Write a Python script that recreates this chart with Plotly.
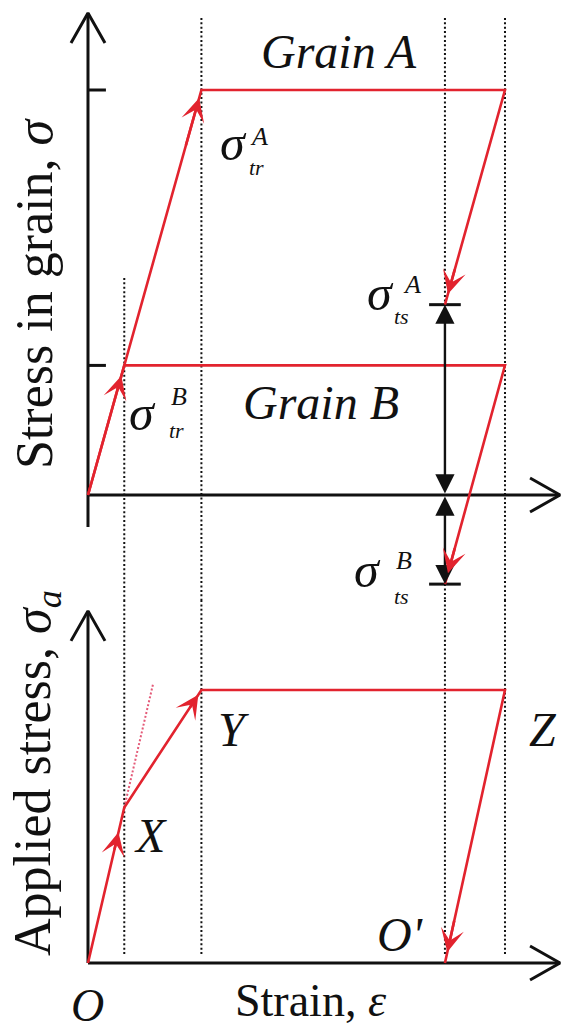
import plotly.graph_objects as go

# ---- data -------------------------------------------------------------
# strain at the characteristic points, normalised by the strain at Z
strain_labels = ["X", "Y", "O'", "Z"]
strain_vals = [0.087, 0.272, 0.856, 1.0]
eps_B, eps_A, eps_res, eps_max = strain_vals

# stress in each grain, normalised by the yield stress of grain A
grain_names = ["A", "B"]
sigma_tr = [1.0, 0.32]      # stress at which each grain starts to yield
sigma_ts = [0.47, -0.22]    # residual stress left after unloading

# applied stress along the path O -> X -> Y -> Z -> O'
applied_labels = ["O", "X", "Y", "Z", "O'"]
applied_strain = [0.0, eps_B, eps_A, eps_max, eps_res]
applied_stress = [0.0, 0.57, 1.0, 1.0, 0.0]

# the initial elastic line continued beyond X
elastic_ext_stress = 1.02

# ---- styling ----------------------------------------------------------
RED = "#e2232e"
PINK = "#e45a78"
BLACK = "#111111"
SERIF = "Liberation Serif"

W, H = 564, 1031
x_range = [-0.211, 1.1415]
y_top_range = [-0.2593, 1.2222]
y_bot_range = [-0.2491, 1.3297]
split = 0.418

# data units per screen pixel, used to size the open axis arrowheads
px_x = (x_range[1] - x_range[0]) / W
px_y = {"y": (y_top_range[1] - y_top_range[0]) / (H * (1 - split)),
        "y2": (y_bot_range[1] - y_bot_range[0]) / (H * split)}

fig = go.Figure()


def line(xs, ys, yaxis, color, width, dash="solid"):
    fig.add_trace(go.Scatter(
        x=xs, y=ys, xaxis="x", yaxis=yaxis, mode="lines",
        line=dict(color=color, width=width, dash=dash),
        hoverinfo="skip", showlegend=False))


annotations = []


def arrow(x, y, ax, ay, yref, color, width, head, size, side="end"):
    annotations.append(dict(
        x=x, y=y, ax=ax, ay=ay, xref="x", yref=yref, axref="x", ayref=yref,
        text="", showarrow=True, arrowhead=head, arrowsize=size,
        arrowwidth=width, arrowcolor=color, arrowside=side,
        startarrowhead=head, startarrowsize=size, standoff=0, startstandoff=0))


def axis_line(x0, y0, x1, y1, yaxis, length=30, half=17):
    """Axis from (x0,y0) to (x1,y1) ending in an open V arrowhead."""
    line([x0, x1], [y0, y1], yaxis, BLACK, 3)
    py = px_y[yaxis]
    if x0 == x1:   # vertical axis, pointing up
        xs = [x1 - half * px_x, x1, x1 + half * px_x]
        ys = [y1 - length * py, y1, y1 - length * py]
    else:          # horizontal axis, pointing right
        xs = [x1 - length * px_x, x1, x1 - length * px_x]
        ys = [y1 + half * py, y1, y1 - half * py]
    line(xs, ys, yaxis, BLACK, 3)


def head_on(x0, y0, x1, y1, yref, frac=1.0):
    """Red arrowhead placed on the segment (x0,y0)->(x1,y1) at fraction frac."""
    tx, ty = x0 + frac * (x1 - x0), y0 + frac * (y1 - y0)
    bx, by = x0 + (frac - 0.12) * (x1 - x0), y0 + (frac - 0.12) * (y1 - y0)
    arrow(tx, ty, bx, by, yref, RED, 2.6, 3, 1.5)


def label(text, x, y, yref, dx, dy, size, italic=True):
    annotations.append(dict(
        x=x, y=y, xref="x", yref=yref, xshift=dx, yshift=dy,
        text=f"<i>{text}</i>" if italic else text, showarrow=False,
        xanchor="center", yanchor="middle",
        font=dict(family=SERIF, size=size, color=BLACK)))


# ---- dotted guide lines ----------------------------------------------
DOT = "2px,2.4px"
guide_top = 1.178
guide_bottom = 0.025
line([eps_B, eps_B], [0.536, y_top_range[0]], "y", BLACK, 2, DOT)
for e in (eps_A, eps_max):
    line([e, e], [guide_top, y_top_range[0]], "y", BLACK, 2, DOT)
line([eps_res, eps_res], [guide_top, sigma_ts[0]], "y", BLACK, 2, DOT)
line([eps_res, eps_res], [sigma_ts[1], y_top_range[0]], "y", BLACK, 2, DOT)
for e in strain_vals:
    line([e, e], [y_bot_range[1], guide_bottom], "y2", BLACK, 2, DOT)

# ---- top panel: stress in grains A and B ---------------------------
axis_line(0, -0.079, 0, 1.19, "y")
axis_line(0, 0, 1.132, 0, "y")
# yield-stress ticks on the stress axis
for s in sigma_tr:
    line([0, 0.043], [s, s], "y", BLACK, 3)
# residual-stress ticks and the double arrows measuring them
for s in sigma_ts:
    line([eps_res - 0.038, eps_res + 0.038], [s, s], "y", BLACK, 3)
    arrow(eps_res, s, eps_res, 0, "y", BLACK, 2.4, 2, 1.6, "end+start")

# grain paths: elastic loading, yield plateau, elastic unloading
for tr, ts, ey in zip(sigma_tr, sigma_ts, (eps_A, eps_B)):
    xs = [0, ey, eps_max, eps_res]
    ys = [0, tr, tr, ts]
    line(xs, ys, "y", RED, 2.6)
head_on(0, 0, eps_A, sigma_tr[0], "y", 0.98)
head_on(0, 0, eps_B, sigma_tr[1], "y", 0.92)
head_on(eps_max, sigma_tr[0], eps_res, sigma_ts[0], "y", 0.95)
head_on(eps_max, sigma_tr[1], eps_res, sigma_ts[1], "y", 0.95)

mid = (eps_A + eps_max) / 2
label("Grain A", mid, sigma_tr[0], "y", -14, 39, 48)
label("Grain B", mid, sigma_tr[1], "y", -32, -37, 48)

SIG = 50
SUP = 26
SUB = 22
label("σ", eps_A, sigma_tr[0], "y", 32, -53, SIG)
label("A", eps_A, sigma_tr[0], "y", 58, -46, SUP)
label("tr", eps_A, sigma_tr[0], "y", 55, -77, SUB)

label("σ", eps_B, sigma_tr[1], "y", 18, -48, SIG)
label("B", eps_B, sigma_tr[1], "y", 55, -31, SUP)
label("tr", eps_B, sigma_tr[1], "y", 52, -65, SUB)

label("σ", eps_res, sigma_ts[0], "y", -64, 12, SIG)
label("A", eps_res, sigma_ts[0], "y", -33, 20, SUP)
label("ts", eps_res, sigma_ts[0], "y", -43, -12, SUB)

label("σ", eps_res, sigma_ts[1], "y", -77, 14, SIG)
label("B", eps_res, sigma_ts[1], "y", -41, 24, SUP)
label("ts", eps_res, sigma_ts[1], "y", -43, -12, SUB)

# ---- bottom panel: applied stress ------------------------------------
axis_line(0, 0, 0, 1.29, "y2")
axis_line(0, 0, 1.132, 0, "y2")

x_X, s_X = applied_strain[1], applied_stress[1]
line([x_X, x_X * elastic_ext_stress / s_X], [s_X, elastic_ext_stress],
     "y2", PINK, 2, "2px,2px")
line(applied_strain, applied_stress, "y2", RED, 2.6)
head_on(applied_strain[0], applied_stress[0], x_X, s_X, "y2", 0.84)
head_on(x_X, s_X, applied_strain[2], applied_stress[2], "y2", 0.96)
head_on(applied_strain[3], applied_stress[3],
        applied_strain[4], applied_stress[4], "y2", 0.96)

pt_shift = {"O": (0, -42), "X": (26, -28), "Y": (32, -39),
            "Z": (38, -39), "O'": (-45, 29)}
for name, e, s in zip(applied_labels, applied_strain, applied_stress):
    dx, dy = pt_shift[name]
    label(name, e, s, "y2", dx, dy, 46 if name == "O" else 48)

# ---- axis titles ----------------------------------------------------
annotations.append(dict(
    x=34 / W, y=1 - 293 / H, xref="paper", yref="paper", showarrow=False,
    text="Stress in grain, <i>σ</i>", textangle=-90,
    xanchor="center", yanchor="middle",
    font=dict(family=SERIF, size=52, color=BLACK)))
annotations.append(dict(
    x=36 / W, y=1 - 773 / H, xref="paper", yref="paper", showarrow=False,
    text="Applied stress, <i>σ</i><sub><i>a</i></sub>", textangle=-90,
    xanchor="center", yanchor="middle",
    font=dict(family=SERIF, size=52, color=BLACK)))
annotations.append(dict(
    x=311 / W, y=1 - 1000 / H, xref="paper", yref="paper", showarrow=False,
    text="Strain, <i>ε</i>", xanchor="center", yanchor="middle",
    font=dict(family=SERIF, size=46, color=BLACK)))

fig.update_layout(
    width=W, height=H, margin=dict(l=0, r=0, t=0, b=0),
    paper_bgcolor="white", plot_bgcolor="white",
    font=dict(family=SERIF),
    xaxis=dict(range=x_range, visible=False, fixedrange=True, anchor="y2"),
    yaxis=dict(range=y_top_range, domain=[split, 1.0], visible=False,
               fixedrange=True),
    yaxis2=dict(range=y_bot_range, domain=[0, split], visible=False,
                fixedrange=True),
    annotations=annotations,
    showlegend=False,
)

fig.write_html("out.html")
